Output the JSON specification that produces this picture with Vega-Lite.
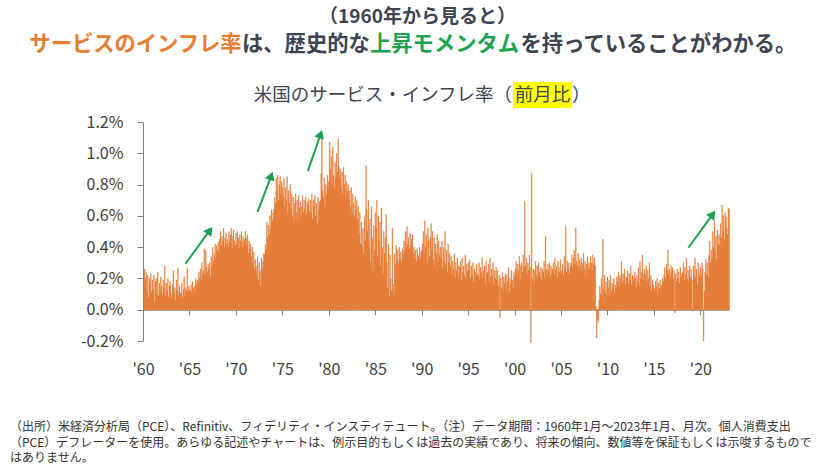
{
"$schema": "https://vega.github.io/schema/vega-lite/v6.json",
"padding": 0,
"background": "white",
"config": {"view": {"stroke": null}, "font": "Noto Sans CJK JP"},
"spacing": 0,
"datasets": {
"arrows": [
{"id":1,"x0":"1964-07-27","y0":0.294,"x1":"1967-03-10","y1":0.507},
{"id":2,"x0":"1972-05-01","y0":0.624,"x1":"1973-10-19","y1":0.856},
{"id":3,"x0":"1977-10-01","y0":0.886,"x1":"1979-02-14","y1":1.123},
{"id":4,"x0":"2018-09-16","y0":0.396,"x1":"2021-05-01","y1":0.61}
],
"pce": [
{"m":"1960-01","v":0.17},{"m":"1960-02","v":0.26},{"m":"1960-03","v":0.2},{"m":"1960-04","v":0.24},{"m":"1960-05","v":0.12},{"m":"1960-06","v":0.22},{"m":"1960-07","v":0.08},{"m":"1960-08","v":0.2},{"m":"1960-09","v":0.16},{"m":"1960-10","v":0.23},{"m":"1960-11","v":0.11},{"m":"1960-12","v":0.19},
{"m":"1961-01","v":0.13},{"m":"1961-02","v":0.22},{"m":"1961-03","v":0.05},{"m":"1961-04","v":0.18},{"m":"1961-05","v":0.2},{"m":"1961-06","v":0.1},{"m":"1961-07","v":0.24},{"m":"1961-08","v":0.09},{"m":"1961-09","v":0.17},{"m":"1961-10","v":0.12},{"m":"1961-11","v":0.21},{"m":"1961-12","v":0.15},
{"m":"1962-01","v":0.1},{"m":"1962-02","v":0.19},{"m":"1962-03","v":0.14},{"m":"1962-04","v":0.28},{"m":"1962-05","v":0.09},{"m":"1962-06","v":0.17},{"m":"1962-07","v":0.12},{"m":"1962-08","v":0.2},{"m":"1962-09","v":0.08},{"m":"1962-10","v":0.15},{"m":"1962-11","v":0.18},{"m":"1962-12","v":0.11},
{"m":"1963-01","v":0.07},{"m":"1963-02","v":0.16},{"m":"1963-03","v":0.25},{"m":"1963-04","v":0.1},{"m":"1963-05","v":0.14},{"m":"1963-06","v":0.06},{"m":"1963-07","v":0.19},{"m":"1963-08","v":0.12},{"m":"1963-09","v":0.27},{"m":"1963-10","v":0.09},{"m":"1963-11","v":0.15},{"m":"1963-12","v":0.11},
{"m":"1964-01","v":0.1},{"m":"1964-02","v":0.17},{"m":"1964-03","v":0.08},{"m":"1964-04","v":0.13},{"m":"1964-05","v":0.21},{"m":"1964-06","v":0.09},{"m":"1964-07","v":0.14},{"m":"1964-08","v":0.12},{"m":"1964-09","v":0.27},{"m":"1964-10","v":0.11},{"m":"1964-11","v":0.15},{"m":"1964-12","v":0.13},
{"m":"1965-01","v":0.12},{"m":"1965-02","v":0.16},{"m":"1965-03","v":0.1},{"m":"1965-04","v":0.18},{"m":"1965-05","v":0.14},{"m":"1965-06","v":0.15},{"m":"1965-07","v":0.11},{"m":"1965-08","v":0.2},{"m":"1965-09","v":0.16},{"m":"1965-10","v":0.19},{"m":"1965-11","v":0.17},{"m":"1965-12","v":0.24},
{"m":"1966-01","v":0.2},{"m":"1966-02","v":0.26},{"m":"1966-03","v":0.19},{"m":"1966-04","v":0.3},{"m":"1966-05","v":0.23},{"m":"1966-06","v":0.25},{"m":"1966-07","v":0.39},{"m":"1966-08","v":0.22},{"m":"1966-09","v":0.38},{"m":"1966-10","v":0.27},{"m":"1966-11","v":0.24},{"m":"1966-12","v":0.29},
{"m":"1967-01","v":0.26},{"m":"1967-02","v":0.3},{"m":"1967-03","v":0.21},{"m":"1967-04","v":0.34},{"m":"1967-05","v":0.28},{"m":"1967-06","v":0.4},{"m":"1967-07","v":0.31},{"m":"1967-08","v":0.36},{"m":"1967-09","v":0.42},{"m":"1967-10","v":0.33},{"m":"1967-11","v":0.41},{"m":"1967-12","v":0.38},
{"m":"1968-01","v":0.43},{"m":"1968-02","v":0.36},{"m":"1968-03","v":0.45},{"m":"1968-04","v":0.5},{"m":"1968-05","v":0.41},{"m":"1968-06","v":0.47},{"m":"1968-07","v":0.44},{"m":"1968-08","v":0.52},{"m":"1968-09","v":0.4},{"m":"1968-10","v":0.46},{"m":"1968-11","v":0.49},{"m":"1968-12","v":0.42},
{"m":"1969-01","v":0.45},{"m":"1969-02","v":0.4},{"m":"1969-03","v":0.5},{"m":"1969-04","v":0.43},{"m":"1969-05","v":0.48},{"m":"1969-06","v":0.52},{"m":"1969-07","v":0.39},{"m":"1969-08","v":0.47},{"m":"1969-09","v":0.51},{"m":"1969-10","v":0.44},{"m":"1969-11","v":0.41},{"m":"1969-12","v":0.49},
{"m":"1970-01","v":0.42},{"m":"1970-02","v":0.5},{"m":"1970-03","v":0.46},{"m":"1970-04","v":0.39},{"m":"1970-05","v":0.48},{"m":"1970-06","v":0.44},{"m":"1970-07","v":0.5},{"m":"1970-08","v":0.4},{"m":"1970-09","v":0.47},{"m":"1970-10","v":0.43},{"m":"1970-11","v":0.45},{"m":"1970-12","v":0.5},
{"m":"1971-01","v":0.46},{"m":"1971-02","v":0.41},{"m":"1971-03","v":0.48},{"m":"1971-04","v":0.36},{"m":"1971-05","v":0.44},{"m":"1971-06","v":0.39},{"m":"1971-07","v":0.42},{"m":"1971-08","v":0.34},{"m":"1971-09","v":0.4},{"m":"1971-10","v":0.3},{"m":"1971-11","v":0.37},{"m":"1971-12","v":0.26},
{"m":"1972-01","v":0.32},{"m":"1972-02","v":0.28},{"m":"1972-03","v":0.22},{"m":"1972-04","v":0.34},{"m":"1972-05","v":0.19},{"m":"1972-06","v":0.3},{"m":"1972-07","v":0.25},{"m":"1972-08","v":0.15},{"m":"1972-09","v":0.33},{"m":"1972-10","v":0.27},{"m":"1972-11","v":0.31},{"m":"1972-12","v":0.36},
{"m":"1973-01","v":0.35},{"m":"1973-02","v":0.42},{"m":"1973-03","v":0.38},{"m":"1973-04","v":0.56},{"m":"1973-05","v":0.46},{"m":"1973-06","v":0.54},{"m":"1973-07","v":0.48},{"m":"1973-08","v":0.6},{"m":"1973-09","v":0.52},{"m":"1973-10","v":0.64},{"m":"1973-11","v":0.57},{"m":"1973-12","v":0.62},
{"m":"1974-01","v":0.64},{"m":"1974-02","v":0.72},{"m":"1974-03","v":0.68},{"m":"1974-04","v":0.84},{"m":"1974-05","v":0.76},{"m":"1974-06","v":0.86},{"m":"1974-07","v":0.7},{"m":"1974-08","v":0.8},{"m":"1974-09","v":0.85},{"m":"1974-10","v":0.74},{"m":"1974-11","v":0.82},{"m":"1974-12","v":0.78},
{"m":"1975-01","v":0.72},{"m":"1975-02","v":0.84},{"m":"1975-03","v":0.66},{"m":"1975-04","v":0.78},{"m":"1975-05","v":0.7},{"m":"1975-06","v":0.85},{"m":"1975-07","v":0.62},{"m":"1975-08","v":0.76},{"m":"1975-09","v":0.68},{"m":"1975-10","v":0.8},{"m":"1975-11","v":0.64},{"m":"1975-12","v":0.74},
{"m":"1976-01","v":0.6},{"m":"1976-02","v":0.72},{"m":"1976-03","v":0.57},{"m":"1976-04","v":0.68},{"m":"1976-05","v":0.74},{"m":"1976-06","v":0.62},{"m":"1976-07","v":0.7},{"m":"1976-08","v":0.58},{"m":"1976-09","v":0.73},{"m":"1976-10","v":0.65},{"m":"1976-11","v":0.69},{"m":"1976-12","v":0.6},
{"m":"1977-01","v":0.66},{"m":"1977-02","v":0.73},{"m":"1977-03","v":0.62},{"m":"1977-04","v":0.7},{"m":"1977-05","v":0.64},{"m":"1977-06","v":0.72},{"m":"1977-07","v":0.61},{"m":"1977-08","v":0.69},{"m":"1977-09","v":0.67},{"m":"1977-10","v":0.71},{"m":"1977-11","v":0.63},{"m":"1977-12","v":0.7},
{"m":"1978-01","v":0.62},{"m":"1978-02","v":0.74},{"m":"1978-03","v":0.58},{"m":"1978-04","v":0.7},{"m":"1978-05","v":0.66},{"m":"1978-06","v":0.73},{"m":"1978-07","v":0.6},{"m":"1978-08","v":0.68},{"m":"1978-09","v":0.55},{"m":"1978-10","v":0.72},{"m":"1978-11","v":0.64},{"m":"1978-12","v":0.69},
{"m":"1979-01","v":0.7},{"m":"1979-02","v":0.87},{"m":"1979-03","v":1.09},{"m":"1979-04","v":0.76},{"m":"1979-05","v":0.72},{"m":"1979-06","v":0.84},{"m":"1979-07","v":0.66},{"m":"1979-08","v":0.8},{"m":"1979-09","v":0.74},{"m":"1979-10","v":0.86},{"m":"1979-11","v":0.78},{"m":"1979-12","v":0.82},
{"m":"1980-01","v":1.07},{"m":"1980-02","v":0.9},{"m":"1980-03","v":0.98},{"m":"1980-04","v":0.8},{"m":"1980-05","v":1.04},{"m":"1980-06","v":0.86},{"m":"1980-07","v":0.78},{"m":"1980-08","v":0.94},{"m":"1980-09","v":0.84},{"m":"1980-10","v":1.0},{"m":"1980-11","v":0.88},{"m":"1980-12","v":1.09},
{"m":"1981-01","v":0.92},{"m":"1981-02","v":0.84},{"m":"1981-03","v":0.9},{"m":"1981-04","v":0.78},{"m":"1981-05","v":0.88},{"m":"1981-06","v":0.74},{"m":"1981-07","v":0.91},{"m":"1981-08","v":0.8},{"m":"1981-09","v":0.86},{"m":"1981-10","v":0.72},{"m":"1981-11","v":0.82},{"m":"1981-12","v":0.76},
{"m":"1982-01","v":0.8},{"m":"1982-02","v":0.7},{"m":"1982-03","v":0.76},{"m":"1982-04","v":0.66},{"m":"1982-05","v":0.78},{"m":"1982-06","v":0.62},{"m":"1982-07","v":0.74},{"m":"1982-08","v":0.68},{"m":"1982-09","v":0.6},{"m":"1982-10","v":0.72},{"m":"1982-11","v":0.64},{"m":"1982-12","v":0.7},
{"m":"1983-01","v":0.58},{"m":"1983-02","v":0.66},{"m":"1983-03","v":0.48},{"m":"1983-04","v":0.62},{"m":"1983-05","v":0.42},{"m":"1983-06","v":0.56},{"m":"1983-07","v":0.4},{"m":"1983-08","v":0.52},{"m":"1983-09","v":0.36},{"m":"1983-10","v":0.6},{"m":"1983-11","v":0.44},{"m":"1983-12","v":0.92},
{"m":"1984-01","v":0.64},{"m":"1984-02","v":0.5},{"m":"1984-03","v":0.7},{"m":"1984-04","v":0.4},{"m":"1984-05","v":0.58},{"m":"1984-06","v":0.3},{"m":"1984-07","v":0.66},{"m":"1984-08","v":0.46},{"m":"1984-09","v":0.25},{"m":"1984-10","v":0.54},{"m":"1984-11","v":0.38},{"m":"1984-12","v":0.62},
{"m":"1985-01","v":0.52},{"m":"1985-02","v":0.7},{"m":"1985-03","v":0.34},{"m":"1985-04","v":0.6},{"m":"1985-05","v":0.44},{"m":"1985-06","v":0.56},{"m":"1985-07","v":0.28},{"m":"1985-08","v":0.65},{"m":"1985-09","v":0.4},{"m":"1985-10","v":0.23},{"m":"1985-11","v":0.5},{"m":"1985-12","v":0.36},
{"m":"1986-01","v":0.46},{"m":"1986-02","v":0.61},{"m":"1986-03","v":0.3},{"m":"1986-04","v":0.14},{"m":"1986-05","v":0.42},{"m":"1986-06","v":0.08},{"m":"1986-07","v":0.35},{"m":"1986-08","v":0.2},{"m":"1986-09","v":0.12},{"m":"1986-10","v":0.52},{"m":"1986-11","v":0.16},{"m":"1986-12","v":0.1},
{"m":"1987-01","v":0.36},{"m":"1987-02","v":0.29},{"m":"1987-03","v":0.41},{"m":"1987-04","v":0.32},{"m":"1987-05","v":0.38},{"m":"1987-06","v":0.3},{"m":"1987-07","v":0.4},{"m":"1987-08","v":0.33},{"m":"1987-09","v":0.37},{"m":"1987-10","v":0.31},{"m":"1987-11","v":0.39},{"m":"1987-12","v":0.35},
{"m":"1988-01","v":0.44},{"m":"1988-02","v":0.38},{"m":"1988-03","v":0.5},{"m":"1988-04","v":0.4},{"m":"1988-05","v":0.53},{"m":"1988-06","v":0.42},{"m":"1988-07","v":0.46},{"m":"1988-08","v":0.39},{"m":"1988-09","v":0.49},{"m":"1988-10","v":0.41},{"m":"1988-11","v":0.45},{"m":"1988-12","v":0.48},
{"m":"1989-01","v":0.36},{"m":"1989-02","v":0.4},{"m":"1989-03","v":0.33},{"m":"1989-04","v":0.38},{"m":"1989-05","v":0.31},{"m":"1989-06","v":0.39},{"m":"1989-07","v":0.35},{"m":"1989-08","v":0.34},{"m":"1989-09","v":0.4},{"m":"1989-10","v":0.32},{"m":"1989-11","v":0.37},{"m":"1989-12","v":0.38},
{"m":"1990-01","v":0.42},{"m":"1990-02","v":0.5},{"m":"1990-03","v":0.36},{"m":"1990-04","v":0.57},{"m":"1990-05","v":0.4},{"m":"1990-06","v":0.48},{"m":"1990-07","v":0.3},{"m":"1990-08","v":0.52},{"m":"1990-09","v":0.44},{"m":"1990-10","v":0.34},{"m":"1990-11","v":0.46},{"m":"1990-12","v":0.55},
{"m":"1991-01","v":0.38},{"m":"1991-02","v":0.5},{"m":"1991-03","v":0.32},{"m":"1991-04","v":0.46},{"m":"1991-05","v":0.28},{"m":"1991-06","v":0.42},{"m":"1991-07","v":0.36},{"m":"1991-08","v":0.48},{"m":"1991-09","v":0.3},{"m":"1991-10","v":0.44},{"m":"1991-11","v":0.35},{"m":"1991-12","v":0.4},
{"m":"1992-01","v":0.33},{"m":"1992-02","v":0.44},{"m":"1992-03","v":0.27},{"m":"1992-04","v":0.4},{"m":"1992-05","v":0.31},{"m":"1992-06","v":0.5},{"m":"1992-07","v":0.29},{"m":"1992-08","v":0.38},{"m":"1992-09","v":0.24},{"m":"1992-10","v":0.42},{"m":"1992-11","v":0.3},{"m":"1992-12","v":0.36},
{"m":"1993-01","v":0.28},{"m":"1993-02","v":0.34},{"m":"1993-03","v":0.22},{"m":"1993-04","v":0.31},{"m":"1993-05","v":0.26},{"m":"1993-06","v":0.36},{"m":"1993-07","v":0.2},{"m":"1993-08","v":0.3},{"m":"1993-09","v":0.25},{"m":"1993-10","v":0.33},{"m":"1993-11","v":0.21},{"m":"1993-12","v":0.28},
{"m":"1994-01","v":0.27},{"m":"1994-02","v":0.31},{"m":"1994-03","v":0.19},{"m":"1994-04","v":0.33},{"m":"1994-05","v":0.24},{"m":"1994-06","v":0.28},{"m":"1994-07","v":0.22},{"m":"1994-08","v":0.35},{"m":"1994-09","v":0.2},{"m":"1994-10","v":0.29},{"m":"1994-11","v":0.25},{"m":"1994-12","v":0.3},
{"m":"1995-01","v":0.25},{"m":"1995-02","v":0.32},{"m":"1995-03","v":0.2},{"m":"1995-04","v":0.28},{"m":"1995-05","v":0.22},{"m":"1995-06","v":0.3},{"m":"1995-07","v":0.18},{"m":"1995-08","v":0.26},{"m":"1995-09","v":0.24},{"m":"1995-10","v":0.21},{"m":"1995-11","v":0.29},{"m":"1995-12","v":0.23},
{"m":"1996-01","v":0.22},{"m":"1996-02","v":0.3},{"m":"1996-03","v":0.19},{"m":"1996-04","v":0.27},{"m":"1996-05","v":0.24},{"m":"1996-06","v":0.33},{"m":"1996-07","v":0.2},{"m":"1996-08","v":0.25},{"m":"1996-09","v":0.28},{"m":"1996-10","v":0.17},{"m":"1996-11","v":0.31},{"m":"1996-12","v":0.23},
{"m":"1997-01","v":0.24},{"m":"1997-02","v":0.29},{"m":"1997-03","v":0.18},{"m":"1997-04","v":0.33},{"m":"1997-05","v":0.21},{"m":"1997-06","v":0.26},{"m":"1997-07","v":0.22},{"m":"1997-08","v":0.3},{"m":"1997-09","v":0.16},{"m":"1997-10","v":0.25},{"m":"1997-11","v":0.2},{"m":"1997-12","v":0.27},
{"m":"1998-01","v":0.19},{"m":"1998-02","v":0.25},{"m":"1998-03","v":0.15},{"m":"1998-04","v":0.22},{"m":"1998-05","v":-0.05},{"m":"1998-06","v":0.2},{"m":"1998-07","v":0.14},{"m":"1998-08","v":0.24},{"m":"1998-09","v":0.12},{"m":"1998-10","v":0.21},{"m":"1998-11","v":0.17},{"m":"1998-12","v":0.23},
{"m":"1999-01","v":0.13},{"m":"1999-02","v":0.22},{"m":"1999-03","v":0.18},{"m":"1999-04","v":0.27},{"m":"1999-05","v":0.11},{"m":"1999-06","v":0.2},{"m":"1999-07","v":0.16},{"m":"1999-08","v":0.25},{"m":"1999-09","v":0.19},{"m":"1999-10","v":0.14},{"m":"1999-11","v":0.24},{"m":"1999-12","v":0.21},
{"m":"2000-01","v":0.26},{"m":"2000-02","v":0.31},{"m":"2000-03","v":0.22},{"m":"2000-04","v":0.29},{"m":"2000-05","v":0.25},{"m":"2000-06","v":0.34},{"m":"2000-07","v":0.2},{"m":"2000-08","v":0.28},{"m":"2000-09","v":0.3},{"m":"2000-10","v":0.24},{"m":"2000-11","v":0.35},{"m":"2000-12","v":0.27},
{"m":"2001-01","v":0.69},{"m":"2001-02","v":0.28},{"m":"2001-03","v":0.33},{"m":"2001-04","v":0.22},{"m":"2001-05","v":0.3},{"m":"2001-06","v":0.25},{"m":"2001-07","v":0.35},{"m":"2001-08","v":0.27},{"m":"2001-09","v":-0.21},{"m":"2001-10","v":0.87},{"m":"2001-11","v":0.2},{"m":"2001-12","v":0.26},
{"m":"2002-01","v":0.17},{"m":"2002-02","v":0.25},{"m":"2002-03","v":0.31},{"m":"2002-04","v":0.22},{"m":"2002-05","v":0.28},{"m":"2002-06","v":0.2},{"m":"2002-07","v":0.3},{"m":"2002-08","v":0.24},{"m":"2002-09","v":0.21},{"m":"2002-10","v":0.27},{"m":"2002-11","v":0.19},{"m":"2002-12","v":0.26},
{"m":"2003-01","v":0.24},{"m":"2003-02","v":0.31},{"m":"2003-03","v":0.2},{"m":"2003-04","v":0.47},{"m":"2003-05","v":0.26},{"m":"2003-06","v":0.22},{"m":"2003-07","v":0.29},{"m":"2003-08","v":0.25},{"m":"2003-09","v":0.3},{"m":"2003-10","v":0.21},{"m":"2003-11","v":0.28},{"m":"2003-12","v":0.23},
{"m":"2004-01","v":0.26},{"m":"2004-02","v":0.3},{"m":"2004-03","v":0.22},{"m":"2004-04","v":0.33},{"m":"2004-05","v":0.25},{"m":"2004-06","v":0.28},{"m":"2004-07","v":0.2},{"m":"2004-08","v":0.31},{"m":"2004-09","v":0.27},{"m":"2004-10","v":0.24},{"m":"2004-11","v":0.32},{"m":"2004-12","v":0.23},
{"m":"2005-01","v":0.25},{"m":"2005-02","v":0.29},{"m":"2005-03","v":0.22},{"m":"2005-04","v":0.34},{"m":"2005-05","v":0.27},{"m":"2005-06","v":0.53},{"m":"2005-07","v":0.24},{"m":"2005-08","v":0.31},{"m":"2005-09","v":0.26},{"m":"2005-10","v":0.3},{"m":"2005-11","v":0.23},{"m":"2005-12","v":0.28},
{"m":"2006-01","v":0.3},{"m":"2006-02","v":0.35},{"m":"2006-03","v":0.27},{"m":"2006-04","v":0.33},{"m":"2006-05","v":0.38},{"m":"2006-06","v":0.29},{"m":"2006-07","v":0.52},{"m":"2006-08","v":0.31},{"m":"2006-09","v":0.28},{"m":"2006-10","v":0.36},{"m":"2006-11","v":0.26},{"m":"2006-12","v":0.32},
{"m":"2007-01","v":0.28},{"m":"2007-02","v":0.33},{"m":"2007-03","v":0.24},{"m":"2007-04","v":0.3},{"m":"2007-05","v":0.36},{"m":"2007-06","v":0.26},{"m":"2007-07","v":0.31},{"m":"2007-08","v":0.22},{"m":"2007-09","v":0.29},{"m":"2007-10","v":0.34},{"m":"2007-11","v":0.25},{"m":"2007-12","v":0.3},
{"m":"2008-01","v":0.27},{"m":"2008-02","v":0.34},{"m":"2008-03","v":0.3},{"m":"2008-04","v":0.25},{"m":"2008-05","v":0.35},{"m":"2008-06","v":0.29},{"m":"2008-07","v":0.33},{"m":"2008-08","v":0.28},{"m":"2008-09","v":0.02},{"m":"2008-10","v":-0.18},{"m":"2008-11","v":-0.06},{"m":"2008-12","v":-0.08},
{"m":"2009-01","v":0.06},{"m":"2009-02","v":0.15},{"m":"2009-03","v":0.1},{"m":"2009-04","v":0.2},{"m":"2009-05","v":0.08},{"m":"2009-06","v":0.45},{"m":"2009-07","v":0.13},{"m":"2009-08","v":0.22},{"m":"2009-09","v":0.11},{"m":"2009-10","v":0.18},{"m":"2009-11","v":0.09},{"m":"2009-12","v":0.21},
{"m":"2010-01","v":0.14},{"m":"2010-02","v":0.19},{"m":"2010-03","v":0.1},{"m":"2010-04","v":0.22},{"m":"2010-05","v":0.12},{"m":"2010-06","v":0.17},{"m":"2010-07","v":0.15},{"m":"2010-08","v":0.2},{"m":"2010-09","v":0.11},{"m":"2010-10","v":0.16},{"m":"2010-11","v":0.13},{"m":"2010-12","v":0.21},
{"m":"2011-01","v":0.18},{"m":"2011-02","v":0.24},{"m":"2011-03","v":0.15},{"m":"2011-04","v":0.22},{"m":"2011-05","v":0.2},{"m":"2011-06","v":0.31},{"m":"2011-07","v":0.17},{"m":"2011-08","v":0.23},{"m":"2011-09","v":0.19},{"m":"2011-10","v":0.26},{"m":"2011-11","v":0.16},{"m":"2011-12","v":0.21},
{"m":"2012-01","v":0.2},{"m":"2012-02","v":0.25},{"m":"2012-03","v":0.17},{"m":"2012-04","v":0.23},{"m":"2012-05","v":0.19},{"m":"2012-06","v":0.28},{"m":"2012-07","v":0.16},{"m":"2012-08","v":0.22},{"m":"2012-09","v":0.21},{"m":"2012-10","v":0.18},{"m":"2012-11","v":0.24},{"m":"2012-12","v":0.2},
{"m":"2013-01","v":0.14},{"m":"2013-02","v":0.22},{"m":"2013-03","v":0.18},{"m":"2013-04","v":0.27},{"m":"2013-05","v":0.16},{"m":"2013-06","v":0.31},{"m":"2013-07","v":0.2},{"m":"2013-08","v":0.24},{"m":"2013-09","v":0.35},{"m":"2013-10","v":0.19},{"m":"2013-11","v":0.23},{"m":"2013-12","v":0.26},
{"m":"2014-01","v":0.22},{"m":"2014-02","v":0.28},{"m":"2014-03","v":0.18},{"m":"2014-04","v":0.25},{"m":"2014-05","v":0.2},{"m":"2014-06","v":0.3},{"m":"2014-07","v":0.15},{"m":"2014-08","v":0.22},{"m":"2014-09","v":0.12},{"m":"2014-10","v":0.19},{"m":"2014-11","v":0.16},{"m":"2014-12","v":0.14},
{"m":"2015-01","v":0.12},{"m":"2015-02","v":0.18},{"m":"2015-03","v":0.15},{"m":"2015-04","v":0.2},{"m":"2015-05","v":0.11},{"m":"2015-06","v":0.17},{"m":"2015-07","v":0.14},{"m":"2015-08","v":0.19},{"m":"2015-09","v":0.13},{"m":"2015-10","v":0.16},{"m":"2015-11","v":0.2},{"m":"2015-12","v":0.18},
{"m":"2016-01","v":0.22},{"m":"2016-02","v":0.27},{"m":"2016-03","v":0.2},{"m":"2016-04","v":0.29},{"m":"2016-05","v":0.25},{"m":"2016-06","v":0.38},{"m":"2016-07","v":0.23},{"m":"2016-08","v":0.26},{"m":"2016-09","v":0.21},{"m":"2016-10","v":0.28},{"m":"2016-11","v":0.24},{"m":"2016-12","v":0.27},
{"m":"2017-01","v":0.2},{"m":"2017-02","v":0.25},{"m":"2017-03","v":-0.02},{"m":"2017-04","v":0.23},{"m":"2017-05","v":0.18},{"m":"2017-06","v":0.26},{"m":"2017-07","v":0.2},{"m":"2017-08","v":0.24},{"m":"2017-09","v":0.17},{"m":"2017-10","v":0.27},{"m":"2017-11","v":0.21},{"m":"2017-12","v":0.23},
{"m":"2018-01","v":0.24},{"m":"2018-02","v":0.3},{"m":"2018-03","v":0.19},{"m":"2018-04","v":0.27},{"m":"2018-05","v":0.22},{"m":"2018-06","v":0.33},{"m":"2018-07","v":0.2},{"m":"2018-08","v":0.25},{"m":"2018-09","v":0.18},{"m":"2018-10","v":0.28},{"m":"2018-11","v":0.21},{"m":"2018-12","v":0.26},
{"m":"2019-01","v":0.19},{"m":"2019-02","v":-0.01},{"m":"2019-03","v":0.28},{"m":"2019-04","v":0.22},{"m":"2019-05","v":0.33},{"m":"2019-06","v":0.2},{"m":"2019-07","v":0.26},{"m":"2019-08","v":0.16},{"m":"2019-09","v":0.3},{"m":"2019-10","v":0.24},{"m":"2019-11","v":0.21},{"m":"2019-12","v":0.27},
{"m":"2020-01","v":0.22},{"m":"2020-02","v":0.3},{"m":"2020-03","v":0.26},{"m":"2020-04","v":-0.2},{"m":"2020-05","v":0.12},{"m":"2020-06","v":0.24},{"m":"2020-07","v":0.32},{"m":"2020-08","v":0.22},{"m":"2020-09","v":0.3},{"m":"2020-10","v":0.2},{"m":"2020-11","v":0.35},{"m":"2020-12","v":0.44},
{"m":"2021-01","v":0.3},{"m":"2021-02","v":0.38},{"m":"2021-03","v":0.33},{"m":"2021-04","v":0.5},{"m":"2021-05","v":0.4},{"m":"2021-06","v":0.57},{"m":"2021-07","v":0.36},{"m":"2021-08","v":0.47},{"m":"2021-09","v":0.32},{"m":"2021-10","v":0.51},{"m":"2021-11","v":0.42},{"m":"2021-12","v":0.48},
{"m":"2022-01","v":0.41},{"m":"2022-02","v":0.55},{"m":"2022-03","v":0.46},{"m":"2022-04","v":0.67},{"m":"2022-05","v":0.5},{"m":"2022-06","v":0.6},{"m":"2022-07","v":0.45},{"m":"2022-08","v":0.62},{"m":"2022-09","v":0.59},{"m":"2022-10","v":0.52},{"m":"2022-11","v":0.48},{"m":"2022-12","v":0.65},
{"m":"2023-01","v":0.64}
]
},
"vconcat": [
{"hconcat": [
  {"width": 10, "height": 34, "data": {"values": []}, "mark": "text"},
  {"width": 815, "height": 34, "data": {"values": [{}]}, "mark": {"type": "text", "text": "（1960年から見ると）", "fontSize": 19, "fontWeight": "bold", "color": "#3e4452", "baseline": "middle"}}
 ], "spacing": 0, "bounds": "flush"},
{"hconcat": [
  {"width": 29, "height": 22, "data": {"values": []}, "mark": "text"},
  {"width": 213, "height": 22, "data": {"values": [{}]}, "mark": {"type": "text", "text": "サービスのインフレ率", "fontSize": 21.3, "fontWeight": "bold", "color": "#E67E32", "baseline": "middle"}},
  {"width": 127.8, "height": 22, "data": {"values": [{}]}, "mark": {"type": "text", "text": "は、歴史的な", "fontSize": 21.3, "fontWeight": "bold", "color": "#3e4452", "baseline": "middle"}},
  {"width": 149.1, "height": 22, "data": {"values": [{}]}, "mark": {"type": "text", "text": "上昇モメンタム", "fontSize": 21.3, "fontWeight": "bold", "color": "#1EA450", "baseline": "middle"}},
  {"width": 276.9, "height": 22, "data": {"values": [{}]}, "mark": {"type": "text", "text": "を持っていることがわかる。", "fontSize": 21.3, "fontWeight": "bold", "color": "#3e4452", "baseline": "middle"}}
 ], "spacing": 0, "bounds": "flush"},
{"width": 10, "height": 26, "data": {"values": []}, "mark": "text"},
{"hconcat": [
  {"width": 253, "height": 26, "data": {"values": []}, "mark": "text"},
  {"width": 259.7, "height": 26, "data": {"values": [{}]}, "mark": {"type": "text", "text": "米国のサービス・インフレ率（", "fontSize": 18.5, "color": "#3e4452", "baseline": "middle"}},
  {"width": 59, "height": 26, "data": {"values": [{}]}, "layer": [
     {"mark": {"type": "rect", "color": "#FFFF00"}, "encoding": {}},
     {"mark": {"type": "text", "text": "前月比", "fontSize": 18.5, "color": "#3e4452", "baseline": "middle"}}
  ]},
  {"width": 18.5, "height": 26, "data": {"values": [{}]}, "mark": {"type": "text", "text": "）", "fontSize": 18.5, "color": "#3e4452", "baseline": "middle"}}
 ], "spacing": 0, "bounds": "flush"},
{"width": 10, "height": 6, "data": {"values": []}, "mark": "text"},
{"hconcat": [
  {"width": 143, "height": 219, "data": {"values": []}, "mark": "text"},
  {"width": 586, "height": 219,
   "layer": [
    {"data": {"name": "pce"},
     "mark": {"type": "bar", "color": "#E5742A", "stroke": "#E5742A", "strokeWidth": 0.3, "binSpacing": 0},
     "encoding": {
       "x": {"field": "m", "type": "temporal", "timeUnit": "utcyearmonth",
             "scale": {"type": "utc", "domain": [{"year": 1960, "month": 1, "date": 1, "utc": true}, {"year": 2023, "month": 2, "date": 1, "utc": true}]},
             "axis": {"title": null, "grid": false, "orient": "bottom", "offset": -31.3, "domainColor": "#808080", "tickColor": "#808080", "tickSize": 5, "labelPadding": 47, "labelFontSize": 16, "labelColor": "#404040", "labelFlush": false, "labelOverlap": false, "tickCount": {"interval": "year", "step": 5}, "labelExpr": "\"'\" + utcFormat(datum.value, '%y')"}},
       "y": {"field": "v", "type": "quantitative",
             "scale": {"domain": [-0.2, 1.2], "nice": false, "zero": false},
             "axis": {"title": null, "grid": false, "values": [-0.2, 0, 0.2, 0.4, 0.6, 0.8, 1, 1.2], "tickCount": 20, "labelOverlap": false, "labelExpr": "replace(format(datum.value, '.1f'), '\u2212', '-') + '%'", "domainColor": "#808080", "tickColor": "#808080", "tickSize": 6, "labelPadding": 14, "labelFontSize": 16, "labelColor": "#404040"}}
     }},
    {"data": {"name": "arrows"},
     "mark": {"type": "rule", "color": "#1DA04F", "strokeWidth": 2},
     "encoding": {"x": {"field": "x0", "type": "temporal", "scale": {"type": "utc"}}, "y": {"field": "y0", "type": "quantitative"}, "x2": {"field": "x1"}, "y2": {"field": "y1"}}},
    {"data": {"name": "arrows"},
     "transform": [{"filter": "datum.id == 1 || datum.id == 4"}],
     "mark": {"type": "point", "shape": "triangle-up", "angle": 36, "filled": true, "size": 100, "color": "#1DA04F", "opacity": 1},
     "encoding": {"x": {"field": "x1", "type": "temporal", "scale": {"type": "utc"}}, "y": {"field": "y1", "type": "quantitative"}}},
    {"data": {"name": "arrows"},
     "transform": [{"filter": "datum.id == 2 || datum.id == 3"}],
     "mark": {"type": "point", "shape": "triangle-up", "angle": 20, "filled": true, "size": 100, "color": "#1DA04F", "opacity": 1},
     "encoding": {"x": {"field": "x1", "type": "temporal", "scale": {"type": "utc"}}, "y": {"field": "y1", "type": "quantitative"}}}
   ]}
 ], "spacing": 0, "bounds": "flush"},
{"width": 10, "height": 43, "data": {"values": []}, "mark": "text"},
{"hconcat": [
  {"width": 10, "height": 1, "data": {"values": []}, "mark": "text"},
  {"width": 805, "height": 1, "data": {"values": []}, "mark": "text",
   "title": {"text": ["（出所）米経済分析局（PCE）、Refinitiv、フィデリティ・インスティテュート。（注）データ期間：1960年1月～2023年1月、月次。個人消費支出", "（PCE）デフレーターを使用。あらゆる記述やチャートは、例示目的もしくは過去の実績であり、将来の傾向、数値等を保証もしくは示唆するもので", "はありません。"], "orient": "top", "anchor": "start", "fontSize": 12, "fontWeight": "normal", "color": "#333333", "lineHeight": 15.5, "offset": 0}}
 ], "spacing": 0, "bounds": "flush"}
]
}
